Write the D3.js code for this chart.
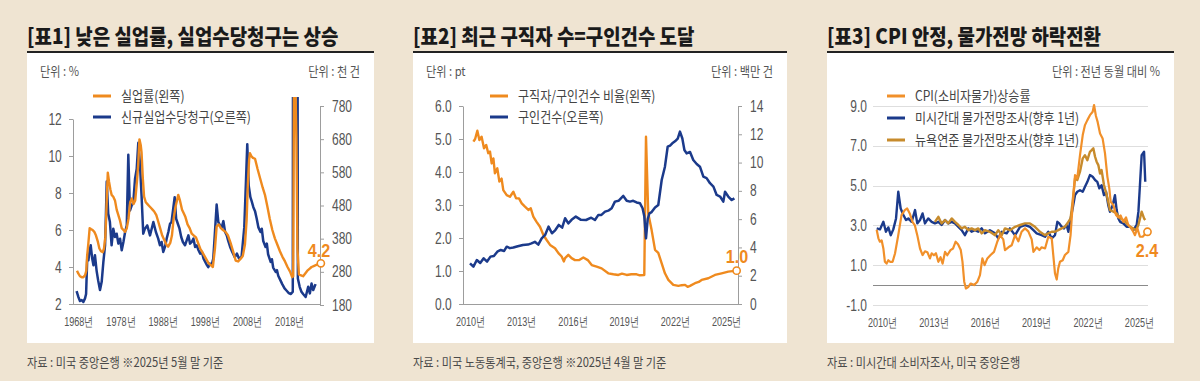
<!DOCTYPE html>
<html><head><meta charset="utf-8">
<script src="https://cdn.jsdelivr.net/npm/d3@7"></script>
<style>
body{margin:0;background:#efe4d2;}
svg{display:block;}
</style></head><body><svg id="c" width="1200" height="381"></svg>
<script>
// ---------------- DATA ----------------
// Panel 1: 실업률(%) & 신규실업수당청구(천 건)
const p1UnempYears = [1967.7,1968.0,1968.4,1968.8,1969.2,1969.6,1969.9,1970.1,1970.4,1970.7,1971.0,1971.4,1971.8,1972.2,1972.6,1973.0,1973.4,1973.8,1974.1,1974.4,1974.6,1974.8,1975.0,1975.3,1975.6,1975.9,1976.3,1976.7,1977.1,1977.5,1977.9,1978.3,1978.7,1979.1,1979.5,1979.9,1980.3,1980.7,1981.1,1981.5,1981.9,1982.2,1982.5,1982.8,1983.0,1983.3,1983.6,1984.0,1984.4,1984.8,1985.2,1985.6,1986.0,1986.5,1986.9,1987.4,1987.9,1988.5,1988.9,1989.3,1989.8,1990.2,1990.6,1991.0,1991.4,1991.7,1992.1,1992.6,1993.0,1993.4,1993.9,1994.4,1994.9,1995.4,1995.9,1996.4,1996.9,1997.4,1997.9,1998.4,1998.9,1999.4,1999.9,2000.4,2000.8,2001.3,2001.8,2002.3,2002.9,2003.5,2004.1,2004.7,2005.3,2005.9,2006.5,2007.0,2007.5,2007.9,2008.2,2008.5,2008.7,2009.0,2009.4,2009.9,2010.5,2011.1,2011.7,2012.25,2012.8,2013.4,2014.0,2014.6,2015.2,2015.8,2016.4,2017.0,2017.6,2018.2,2018.7,2018.95,2019.15,2019.45,2019.7,2019.95,2020.3,2020.8,2021.3,2021.8,2022.3,2022.8,2023.3,2023.8,2024.3,2024.8,2025.5];
const p1UnempValues = [3.8,3.65,3.5,3.45,3.45,3.55,3.8,4.6,5.3,6.1,6.05,6.0,5.9,5.7,5.4,5.0,4.85,4.8,5.0,5.6,6.6,8.0,9.1,8.6,8.2,7.9,7.8,7.6,7.1,6.8,6.5,6.1,6.0,5.9,6.1,6.6,7.5,7.7,7.4,7.6,8.6,9.5,10.9,10.6,10.2,8.8,7.8,7.5,7.4,7.3,7.2,7.1,7.0,6.8,6.5,6.1,5.7,5.4,5.2,5.1,5.3,5.7,6.6,7.2,7.6,7.9,7.6,7.1,6.9,6.7,6.3,6.1,5.8,5.7,5.6,5.3,5.0,4.8,4.6,4.4,4.2,4.1,4.0,5.0,6.2,6.3,6.1,6.0,5.9,5.7,5.3,4.85,4.35,4.3,4.45,4.6,5.2,6.5,8.5,9.8,10.15,10.0,9.9,9.85,9.3,8.8,8.3,7.9,7.3,6.6,6.0,5.55,5.2,4.85,4.55,4.3,4.0,3.75,3.45,3.5,14.7,14.0,11.0,5.0,3.6,3.55,3.5,3.65,3.8,3.9,4.0,4.05,4.1,4.15,4.2];
const p1ClaimsYears = [1967.6,1968.0,1968.4,1968.8,1969.2,1969.6,1969.85,1970.15,1970.4,1970.7,1970.95,1971.3,1971.6,1971.95,1972.35,1972.7,1973.15,1973.55,1973.95,1974.35,1974.55,1974.75,1975.1,1975.5,1975.9,1976.3,1976.7,1977.1,1977.5,1977.9,1978.3,1978.7,1979.1,1979.5,1979.86,1980.25,1980.65,1981.05,1981.45,1981.85,1982.23,1982.6,1983.0,1983.4,1983.8,1984.35,1985.0,1985.4,1985.8,1986.4,1986.95,1987.35,1987.75,1988.15,1988.55,1988.95,1989.35,1989.75,1990.1,1990.5,1990.85,1991.2,1991.6,1992.0,1992.4,1992.8,1993.3,1993.7,1994.1,1994.5,1994.9,1995.3,1995.7,1996.1,1996.5,1996.9,1997.3,1997.7,1998.1,1998.5,1998.8,1999.2,1999.6,2000.0,2000.4,2000.8,2001.2,2001.6,2002.0,2002.4,2002.8,2003.2,2003.55,2004.0,2004.5,2005.1,2005.6,2006.1,2006.7,2007.35,2007.75,2008.06,2008.4,2008.8,2009.1,2009.5,2009.9,2010.3,2010.7,2011.2,2011.5,2011.85,2012.4,2012.7,2013.0,2013.6,2013.9,2014.2,2014.8,2015.1,2015.4,2015.9,2016.35,2016.9,2017.4,2017.9,2018.4,2018.85,2019.05,2019.8,2020.05,2020.5,2020.9,2021.3,2021.9,2022.5,2022.9,2023.3,2023.7,2024.25];
const p1ClaimsValues = [222,205,192,195,189,200,213,330,315,345,360,320,300,330,283,255,225,250,310,360,450,552,455,430,360,410,385,395,365,380,345,370,400,420,633,465,480,490,560,590,669,610,510,395,410,420,390,410,430,400,380,360,370,340,355,380,400,425,430,470,505,440,425,410,385,370,360,375,390,365,370,380,355,360,345,335,340,320,310,300,294,305,300,320,400,483,430,420,414,433,400,390,373,355,340,324,335,320,325,414,553,665,540,505,493,475,463,440,414,400,410,373,355,365,333,310,318,293,280,285,268,255,243,230,223,216,213,220,3000,3000,260,234,220,213,204,235,215,245,225,243];
const p1LeftTicks = [2,4,6,8,10,12];
const p1RightTicks = [180,280,380,480,580,680,780];
const p1XTicks = [1968,1978,1988,1998,2008,2018];

// Panel 2: 구직자/구인건수 비율(pt) & 구인건수(백만 건)
const p2RatioYears = [2010.2,2010.3,2010.43,2010.55,2010.68,2010.82,2010.95,2011.07,2011.17,2011.27,2011.37,2011.46,2011.6,2011.72,2011.85,2011.95,2012.15,2012.34,2012.54,2012.7,2012.87,2013.03,2013.22,2013.42,2013.56,2013.71,2013.9,2014.1,2014.3,2014.49,2014.69,2014.98,2015.18,2015.37,2015.5,2015.57,2015.76,2015.95,2016.15,2016.4,2016.64,2016.9,2017.13,2017.42,2017.71,2018.1,2018.4,2018.69,2018.9,2019.18,2019.45,2019.76,2019.95,2020.21,2020.31,2020.44,2020.64,2020.84,2021.03,2021.23,2021.42,2021.62,2021.91,2022.21,2022.4,2022.6,2022.75,2022.89,2023.18,2023.4,2023.57,2023.96,2024.35,2024.74,2025.13,2025.62];
const p2RatioValues = [4.92,5.0,5.25,4.97,5.07,4.72,4.82,4.57,4.62,4.26,4.41,3.96,4.11,3.71,3.8,3.45,3.30,3.25,3.40,3.20,3.2,3.05,2.95,2.85,2.9,2.65,2.49,2.34,2.09,1.94,1.79,1.69,1.54,1.44,1.29,1.39,1.49,1.39,1.33,1.33,1.41,1.33,1.18,1.13,1.08,0.93,0.9,0.88,0.92,0.88,0.9,0.9,0.87,0.88,5.07,2.75,2.24,1.64,1.55,1.23,0.93,0.73,0.58,0.55,0.57,0.58,0.52,0.55,0.63,0.67,0.73,0.78,0.88,0.93,0.98,1.01];
const p2OpenYears = [2010.0,2010.2,2010.4,2010.6,2010.8,2011.0,2011.2,2011.4,2011.6,2011.8,2012.0,2012.15,2012.34,2012.54,2012.8,2013.1,2013.4,2013.6,2013.8,2014.0,2014.2,2014.4,2014.6,2014.8,2015.0,2015.2,2015.4,2015.57,2015.76,2015.95,2016.2,2016.5,2016.8,2017.1,2017.32,2017.52,2017.7,2017.91,2018.1,2018.3,2018.49,2018.7,2018.98,2019.18,2019.37,2019.56,2019.76,2019.96,2020.11,2020.21,2020.31,2020.41,2020.51,2020.64,2020.84,2021.03,2021.23,2021.42,2021.58,2021.72,2021.85,2022.01,2022.17,2022.3,2022.44,2022.56,2022.69,2022.89,2023.08,2023.28,2023.47,2023.67,2023.86,2024.06,2024.26,2024.45,2024.65,2024.84,2024.94,2025.13,2025.33,2025.49];
const p2OpenValues = [2.88,2.64,3.11,2.9,3.23,3.0,3.35,3.4,3.7,3.82,3.75,4.05,3.95,3.99,4.08,4.17,4.2,4.29,4.4,4.2,4.64,4.88,5.47,5.0,5.23,5.59,5.4,6.06,5.7,5.95,6.18,5.95,5.94,6.1,5.94,6.3,6.3,6.53,6.6,6.77,7.24,7.3,7.64,7.3,7.24,7.3,7.18,7.12,6.77,6.2,4.64,6.0,6.41,6.5,6.83,7.0,8.77,9.71,11.12,11.2,11.36,11.5,11.7,12.19,11.7,10.89,10.65,10.75,10.18,9.9,9.71,9.0,8.9,8.54,8.3,7.71,7.6,7.24,7.94,7.6,7.35,7.47];
const p2LeftTicks = [0,1,2,3,4,5,6];
const p2RightTicks = [0,2,4,6,8,10,12,14];
const p2XTicks = [2010,2013,2016,2019,2022,2025];

// Panel 3: 전년 동월 대비 %
const p3CpiYears = [2009.69,2009.79,2009.88,2009.98,2010.08,2010.17,2010.27,2010.37,2010.47,2010.62,2010.76,2010.95,2011.14,2011.33,2011.47,2011.62,2011.78,2011.92,2012.06,2012.22,2012.37,2012.51,2012.65,2012.8,2012.9,2013.03,2013.15,2013.29,2013.42,2013.54,2013.68,2013.81,2014.0,2014.15,2014.3,2014.44,2014.6,2014.7,2014.8,2014.9,2015.03,2015.18,2015.37,2015.57,2015.72,2015.86,2015.99,2016.15,2016.34,2016.54,2016.73,2016.89,2017.08,2017.18,2017.38,2017.57,2017.77,2017.96,2018.15,2018.35,2018.54,2018.74,2018.84,2019.03,2019.19,2019.32,2019.52,2019.71,2019.91,2020.0,2020.1,2020.2,2020.29,2020.39,2020.55,2020.68,2020.88,2021.01,2021.13,2021.27,2021.4,2021.56,2021.72,2021.85,2021.99,2022.14,2022.3,2022.38,2022.49,2022.59,2022.73,2022.88,2023.02,2023.16,2023.27,2023.35,2023.51,2023.66,2023.8,2023.93,2024.09,2024.25,2024.38,2024.52,2024.67,2024.77,2024.91,2025.06,2025.22,2025.35,2025.5];
const p3CpiValues = [2.78,2.35,2.18,2.25,1.84,1.17,1.08,1.25,1.17,1.17,1.59,2.51,3.52,3.77,3.85,3.6,3.18,3.0,2.51,1.84,1.51,1.7,1.65,1.34,1.6,1.5,1.6,1.17,1.4,1.08,1.67,1.5,1.76,1.84,2.18,2.05,1.76,1.17,0.17,-0.17,-0.1,0.08,0.0,0.17,0.5,1.34,1.0,1.34,1.51,1.67,2.18,2.51,2.3,1.76,1.9,2.0,2.51,2.2,2.68,2.85,2.7,2.3,1.67,1.9,1.76,1.9,1.84,2.43,2.35,1.51,0.59,0.28,0.84,1.17,1.25,1.51,1.67,2.51,4.02,5.53,5.36,6.53,7.54,8.04,8.29,8.54,8.71,9.05,8.5,8.2,7.62,7.37,6.62,5.44,4.86,4.19,4.02,3.52,3.4,3.5,3.18,3.4,3.02,2.9,2.68,2.51,2.85,2.43,2.43,2.55,2.68];
const p3MichYears = [2009.69,2009.88,2010.08,2010.23,2010.37,2010.51,2010.66,2010.82,2010.95,2011.09,2011.25,2011.4,2011.54,2011.73,2011.93,2012.06,2012.22,2012.37,2012.51,2012.7,2012.9,2013.09,2013.29,2013.48,2013.68,2013.87,2014.07,2014.26,2014.46,2014.65,2014.84,2015.04,2015.23,2015.43,2015.62,2015.82,2016.01,2016.3,2016.6,2016.79,2016.99,2017.28,2017.47,2017.77,2018.06,2018.35,2018.64,2018.84,2019.03,2019.32,2019.52,2019.71,2019.91,2020.1,2020.24,2020.35,2020.49,2020.63,2020.78,2020.88,2020.98,2021.13,2021.27,2021.4,2021.56,2021.72,2021.85,2021.99,2022.14,2022.3,2022.44,2022.57,2022.69,2022.82,2022.96,2023.08,2023.21,2023.31,2023.47,2023.6,2023.7,2023.8,2023.9,2024.09,2024.28,2024.48,2024.67,2024.87,2024.97,2025.06,2025.16,2025.3,2025.37];
const p3MichValues = [2.85,2.8,3.18,2.68,2.9,2.51,2.8,3.35,4.69,3.85,3.52,3.27,3.35,3.18,3.77,3.1,3.27,3.6,3.1,3.35,3.18,3.1,3.18,3.02,3.27,3.1,3.18,3.1,2.93,2.76,2.51,2.85,2.68,2.76,2.68,2.85,2.6,2.76,2.6,2.35,2.68,2.6,2.85,2.51,2.93,3.02,2.93,2.76,2.6,2.51,2.43,2.68,2.35,2.51,3.18,3.1,2.93,2.85,3.02,2.68,3.18,3.85,4.52,4.69,4.77,4.69,4.94,5.19,5.53,5.44,5.28,5.19,4.86,5.02,4.52,4.69,4.02,3.69,4.02,4.52,3.77,3.35,3.18,3.1,2.93,2.93,2.76,3.02,3.69,5.03,6.53,6.7,5.19];
const p3NyfYears = [2013.09,2013.29,2013.48,2013.68,2013.87,2014.07,2014.26,2014.46,2014.65,2014.84,2015.04,2015.23,2015.43,2015.62,2015.82,2016.01,2016.3,2016.6,2016.79,2016.99,2017.18,2017.47,2017.77,2018.06,2018.35,2018.64,2018.93,2019.22,2019.52,2019.71,2019.91,2020.1,2020.29,2020.49,2020.68,2020.88,2021.01,2021.13,2021.27,2021.4,2021.56,2021.72,2021.85,2021.99,2022.14,2022.24,2022.34,2022.44,2022.53,2022.63,2022.73,2022.82,2022.96,2023.12,2023.21,2023.31,2023.51,2023.7,2023.9,2024.09,2024.28,2024.48,2024.67,2024.83,2024.97,2025.16,2025.3,2025.37];
const p3NyfValues = [3.18,3.43,3.1,3.27,3.1,3.35,3.18,3.02,2.85,2.93,2.76,2.85,2.76,2.85,2.6,2.76,2.68,2.51,2.76,2.51,2.85,2.76,2.93,3.02,3.1,3.1,2.93,2.68,2.51,2.6,2.68,2.68,2.76,2.85,2.93,3.18,3.35,4.19,5.36,5.28,5.7,6.37,6.53,6.28,6.7,6.78,6.87,6.45,6.2,6.03,5.61,5.78,5.03,4.52,4.19,3.77,3.69,3.6,3.35,3.27,3.1,2.93,2.85,2.76,3.02,3.69,3.35,3.27];
const p3YTicks = [-1,1,3,5,7,9];
const p3XTicks = [2010,2013,2016,2019,2022,2025];

// ---------------- DRAW ----------------
const svg = d3.select("#c");
const KR = "'Noto Sans CJK KR','Noto Sans',sans-serif";
const NUM = "'Liberation Sans',Arial,sans-serif";
const COL = {orange:"#ef8a1e", blue:"#1b3a8b", gold:"#c78b2c", cpi:"#f1902a", axis:"#9d9d9d", text:"#555"};
const zip = (a,b) => a.map((v,i)=>[v,b[i]]);

function T(x,y,s,o={}){
  const {size=13,fill=COL.text,anchor="start",weight=400,sx=0.86,family=KR}=o;
  return svg.append("text").attr("transform",`translate(${x},${y}) scale(${sx},1)`)
    .attr("text-anchor",anchor).attr("font-size",size).attr("font-weight",weight)
    .attr("fill",fill).style("font-family",family).text(s);
}
function frame(x0,x1,title,unitL,unitR,source){
  svg.append("rect").attr("x",x0).attr("y",53).attr("width",x1-x0).attr("height",290).attr("fill","#fff");
  T(x0,44,title,{size:21,weight:900,fill:"#1a1a1a",sx:0.9});
  svg.append("line").attr("x1",x0).attr("x2",x1).attr("y1",52).attr("y2",52).attr("stroke","#222").attr("stroke-width",2);
  if(unitL) T(x0+13,76,unitL,{size:13});
  if(unitR) T(x1-14,76,unitR,{size:13,anchor:"end"});
  T(x0,367,source,{size:13,fill:"#4a4a4a"});
}
function legend(x,items){
  items.forEach(it=>{
    svg.append("line").attr("x1",x).attr("x2",x+18).attr("y1",it.y).attr("y2",it.y).attr("stroke",it.color).attr("stroke-width",3);
    T(x+28,it.y+5,it.label,{size:14,fill:"#444"});
  });
}
function styleAxis(g,{sx=0.75,size=16}={}){
  g.select(".domain").attr("stroke",COL.axis).attr("stroke-width",1);
  g.selectAll(".tick line").attr("stroke",COL.axis);
  g.selectAll(".tick text").attr("font-size",size).attr("fill",COL.text).style("font-family",NUM)
    .attr("transform",`scale(${sx},1)`);
}
function xAxis(x,y0,ticks){
  const g = svg.append("g").attr("transform",`translate(0,${y0})`)
    .call(d3.axisBottom(x).tickValues(ticks).tickSize(0).tickPadding(13).tickFormat(d=>d+"년"));
  g.select(".domain").remove();
  g.selectAll(".tick text").attr("font-size",13).attr("fill",COL.text).style("font-family",NUM)
    .attr("transform","scale(0.7,1)");
  return g;
}
function path(g,data,x,y,color,w=2.4){
  g.append("path").datum(data).attr("fill","none").attr("stroke",color).attr("stroke-width",w)
    .attr("stroke-linejoin","round").attr("d",d3.line().x(d=>x(d[0])).y(d=>y(d[1])));
}
function endMark(cx,cy,label,lx,ly){
  svg.append("circle").attr("cx",cx).attr("cy",cy).attr("r",3.6).attr("fill","#fff").attr("stroke",COL.orange).attr("stroke-width",1.6);
  T(lx,ly,label,{size:19,fill:COL.orange,anchor:"middle",sx:0.85,weight:700,family:NUM});
}

// Panel 1
frame(27,374,"[표1] 낮은 실업률, 실업수당청구는 상승","단위 : %","단위 : 천 건","자료 : 미국 중앙은행 ※2025년 5월 말 기준");
{
  const x = d3.scaleLinear().domain([1966.75,2025.3]).range([73,320]);
  const yL = d3.scaleLinear().domain([2,12]).range([304,119]);
  const yR = d3.scaleLinear().domain([180,780]).range([305,106]);
  svg.append("clipPath").attr("id","cp1").append("rect").attr("x",73).attr("y",97).attr("width",252).attr("height",208);
  const g = svg.append("g").attr("clip-path","url(#cp1)");
  path(g,zip(p1ClaimsYears,p1ClaimsValues),x,yR,COL.blue,2.5);
  path(g,zip(p1UnempYears,p1UnempValues),x,yL,COL.orange,2.4);
  const gl = svg.append("g").attr("transform","translate(73,0)").call(d3.axisLeft(yL).tickValues(p1LeftTicks).tickSize(4).tickSizeOuter(0).tickPadding(11));
  styleAxis(gl);
  const gr = svg.append("g").attr("transform","translate(320,0)").call(d3.axisRight(yR).tickValues(p1RightTicks).tickSize(4).tickSizeOuter(0).tickPadding(12));
  styleAxis(gr);
  svg.append("line").attr("x1",73).attr("x2",320).attr("y1",304.5).attr("y2",304.5).attr("stroke",COL.axis);
  xAxis(x,304,p1XTicks);
  const last = p1UnempYears.length-1;
  endMark(x(p1UnempYears[last]),yL(p1UnempValues[last]),"4.2",319,257);
  legend(93,[{y:96,color:COL.orange,label:"실업률(왼쪽)"},{y:117,color:COL.blue,label:"신규실업수당청구(오른쪽)"}]);
}

// Panel 2
frame(413,787,"[표2] 최근 구직자 수=구인건수 도달","단위 : pt","단위 : 백만 건","자료 : 미국 노동통계국, 중앙은행 ※2025년 4월 말 기준");
{
  const x = d3.scaleLinear().domain([2009.59,2025.7]).range([463,738]);
  const yL = d3.scaleLinear().domain([0,6]).range([304,106]);
  const yR = d3.scaleLinear().domain([0,14]).range([304,106]);
  const g = svg.append("g");
  path(g,zip(p2RatioYears,p2RatioValues),x,yL,COL.orange,2.4);
  path(g,zip(p2OpenYears,p2OpenValues),x,yR,COL.blue,2.5);
  const gl = svg.append("g").attr("transform","translate(463,0)").call(d3.axisLeft(yL).tickValues(p2LeftTicks).tickSize(4).tickSizeOuter(0).tickPadding(11).tickFormat(d3.format(".1f")));
  styleAxis(gl);
  const gr = svg.append("g").attr("transform","translate(738,0)").call(d3.axisRight(yR).tickValues(p2RightTicks).tickSize(4).tickSizeOuter(0).tickPadding(12));
  styleAxis(gr);
  svg.append("line").attr("x1",463).attr("x2",738).attr("y1",304.5).attr("y2",304.5).attr("stroke",COL.axis);
  xAxis(x,304,p2XTicks);
  const last = p2RatioYears.length-1;
  endMark(x(p2RatioYears[last]),yL(p2RatioValues[last]),"1.0",737,263);
  legend(490,[{y:96,color:COL.orange,label:"구직자/구인건수 비율(왼쪽)"},{y:117,color:COL.blue,label:"구인건수(오른쪽)"}]);
}

// Panel 3
frame(827,1174,"[표3] CPI 안정, 물가전망 하락전환",null,"단위 : 전년 동월 대비 %","자료 : 미시간대 소비자조사, 미국 중앙은행");
{
  const x = d3.scaleLinear().domain([2009.475,2025.53]).range([873,1148]);
  const y = d3.scaleLinear().domain([-1,9]).range([305,106]);
  const grid = svg.append("g");
  p3YTicks.forEach(v=>{
    grid.append("line").attr("x1",873).attr("x2",1148).attr("y1",Math.round(y(v))+0.5).attr("y2",Math.round(y(v))+0.5).attr("stroke","#dedede");
  });
  grid.append("line").attr("x1",873).attr("x2",1148).attr("y1",Math.round(y(0))+0.5).attr("y2",Math.round(y(0))+0.5).attr("stroke","#8a8a8a");
  const gl = svg.append("g").attr("transform","translate(873,0)").call(d3.axisLeft(y).tickValues(p3YTicks).tickSize(0).tickPadding(8).tickFormat(d=>(d<0?"-":"")+Math.abs(d).toFixed(1)));
  gl.select(".domain").remove();
  styleAxis(gl);
  const g = svg.append("g");
  path(g,zip(p3MichYears,p3MichValues),x,y,COL.blue,2.4);
  path(g,zip(p3NyfYears,p3NyfValues),x,y,COL.gold,2.4);
  path(g,zip(p3CpiYears,p3CpiValues),x,y,COL.cpi,2.2);
  xAxis(x,305,p3XTicks);
  const last = p3CpiYears.length-1;
  endMark(x(p3CpiYears[last]),y(p3CpiValues[last]),"2.4",1147,257);
  legend(887,[{y:96,color:COL.cpi,label:"CPI(소비자물가)상승률"},{y:118,color:COL.blue,label:"미시간대 물가전망조사(향후 1년)"},{y:140,color:COL.gold,label:"뉴욕연준 물가전망조사(향후 1년)"}]);
}
</script></body></html>
